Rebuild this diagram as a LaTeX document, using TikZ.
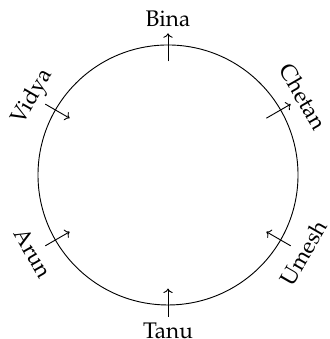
\documentclass[tikz,border=0pt]{standalone}
\usepackage[T1]{fontenc}
\usepackage{mathpazo}
\usetikzlibrary{arrows.meta}
\definecolor{ink}{RGB}{0,0,0}

\begin{document}
\begin{tikzpicture}
    \useasboundingbox (-3.877,-3.785) rectangle (3.738,4.038);
    \node[draw=ink,circle,semithick,minimum size=6cm,inner sep=0pt] (ring) at (0,0) {};
    \foreach \a/\l/\r in {90/Bina/0,150/Vidya/60,30/Chetan/-60,
                         210/Arun/-60,330/Umesh/60,270/Tanu/0}{
      \coordinate (\l-i) at (\a:2.62);
      \coordinate (\l-o) at (\a:3.27);
      \node[font=\fontsize{14.8}{17}\selectfont,rotate=\r,inner sep=0pt] (\l) at (\a:3.6) {\l};
    }
    % arrows: outwards for Bina and Chetan, inwards for the others
    \foreach \l in {Bina,Chetan} \draw[->,semithick,ink] (\l-i) -- (\l-o);
    \foreach \l in {Vidya,Arun,Umesh,Tanu} \draw[->,semithick,ink] (\l-o) -- (\l-i);
  \end{tikzpicture}
\end{document}
